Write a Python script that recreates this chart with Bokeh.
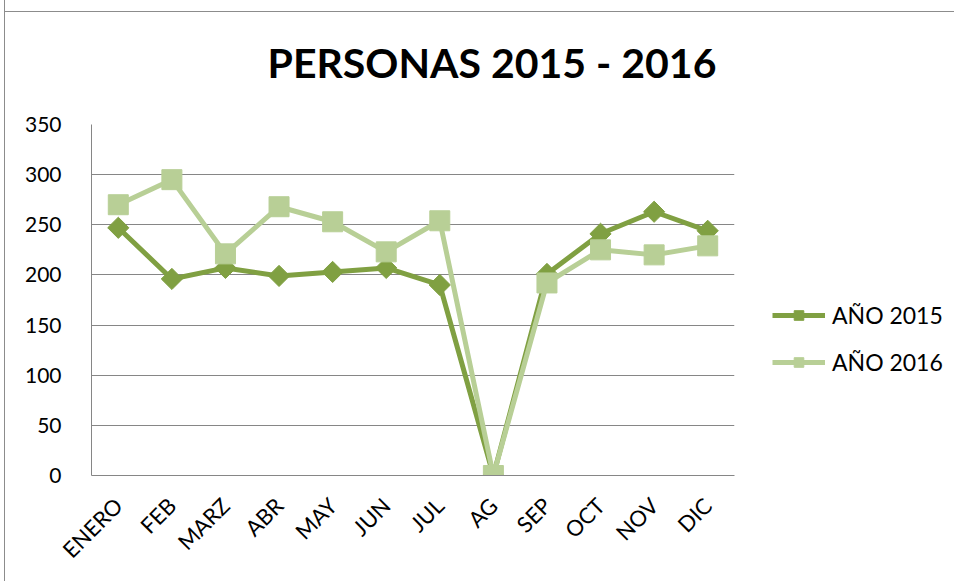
import math
from bokeh.plotting import figure
from bokeh.models import FactorRange, Range1d, Legend, LegendItem, ColumnDataSource, SingleIntervalTicker
from bokeh.embed import file_html
from bokeh.resources import INLINE

months = ["ENERO", "FEB", "MARZ", "ABR", "MAY", "JUN", "JUL", "AG", "SEP", "OCT", "NOV", "DIC"]
anio_2015 = [247, 196, 207, 199, 203, 207, 190, 0, 201, 241, 263, 244]
anio_2016 = [270, 295, 221, 268, 253, 223, 254, 0, 192, 225, 220, 229]

C2015 = "#80A042"
C2016 = "#B8CF96"
FONT = "Lato"

src = ColumnDataSource(dict(m=months, a=anio_2015, b=anio_2016))

p = figure(frame_width=643, frame_height=351, output_backend="svg", toolbar_location=None,
           x_range=FactorRange(*months, range_padding=0), y_range=Range1d(0, 350),
           min_border_left=86, min_border_right=214, min_border_top=124, min_border_bottom=106)
p.border_fill_color = None
p.styles = {"border-left": "1px solid #8c8c8c", "border-right": "1px solid #8c8c8c",
            "margin-left": "4px",
            "background": "linear-gradient(#8c8c8c, #8c8c8c) 0 11px / 100% 1px no-repeat, #ffffff"}

p.title.text = "PERSONAS 2015 - 2016"
p.title.align = "left"
p.title.vertical_align = "top"
p.title.offset = 176
p.title.standoff = 71
p.title.text_font = FONT
p.title.text_font_size = "41px"
p.title.text_font_style = "bold"
p.title.text_color = "#000000"

p.outline_line_color = None
p.xgrid.grid_line_color = None
p.ygrid.grid_line_color = "#868686"
p.ygrid.grid_line_width = 1
p.yaxis.ticker = SingleIntervalTicker(interval=50)

for ax in (p.xaxis, p.yaxis):
    ax.axis_line_color = "#868686"
    ax.major_tick_line_color = None
    ax.minor_tick_line_color = None
    ax.major_label_text_font = FONT
    ax.major_label_text_font_size = "21px"
    ax.major_label_text_color = "#000000"
p.xaxis.major_label_text_font_size = "22px"
p.xaxis.major_label_orientation = math.pi / 4
p.xaxis.major_label_standoff = 20
p.yaxis.major_label_standoff = 24

l1 = p.line("m", "a", source=src, line_color=C2015, line_width=5)
s1 = p.scatter("m", "a", source=src, marker="square", angle=math.pi / 4, size=15,
               fill_color=C2015, line_color=C2015)
l2 = p.line("m", "b", source=src, line_color=C2016, line_width=5)
s2 = p.scatter("m", "b", source=src, marker="square", size=20, fill_color=C2016, line_color=C2016)

legend = Legend(items=[LegendItem(label="AÑO 2015", renderers=[l1, s1]),
                       LegendItem(label="AÑO 2016", renderers=[l2, s2])],
                location=(38, 99), orientation="vertical",
                glyph_width=53, glyph_height=24, label_height=24, spacing=19,
                label_standoff=7, padding=0, margin=0,
                border_line_color=None, background_fill_alpha=0,
                label_text_font=FONT, label_text_font_size="23px", label_text_color="#000000")
p.add_layout(legend, "right")

open("out.html", "w").write(file_html(p, INLINE))
